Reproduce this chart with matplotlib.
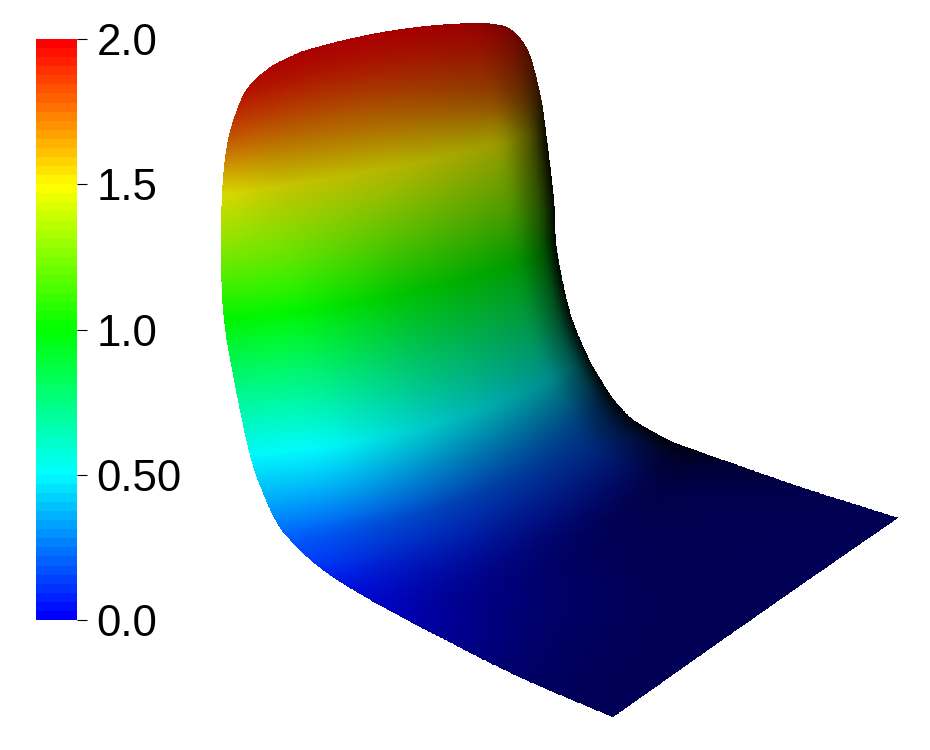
import numpy as np
import matplotlib
matplotlib.use("Agg")
import matplotlib.pyplot as plt
from matplotlib.colors import LinearSegmentedColormap, Normalize
from matplotlib.cm import ScalarMappable

plt.rcParams['font.family'] = ['Liberation Sans', 'DejaVu Sans']

# colour bar
tick_values = [0.0, 0.5, 1.0, 1.5, 2.0]
tick_labels = ["0.0", "0.50", "1.0", "1.5", "2.0"]
rainbow = ["#0000ff", "#00ffff", "#00ff00", "#ffff00", "#ff0000"]

# surface in pixels, one row per scalar value, bottom to top
row_value = [0, 0, 0, 0.01, 0.05, 0.12, 0.18, 0.25, 0.37, 0.5, 0.75, 1.0, 1.25, 1.5, 1.75, 1.9, 1.96, 1.985, 2.0]
left_x = [613, 520, 440, 385, 342, 313, 290, 277, 263, 250, 235, 224, 221, 222, 227, 238, 250, 272, 300]
left_y = [717, 677, 637, 608, 583, 562, 540, 523, 493, 455, 385, 320, 258, 195, 145, 107, 85, 66, 52]
mid_x = [755, 680, 607, 550, 525, 500, 480, 475, 460, 443, 425, 410, 400, 390, 385, 378, 380, 388, 395]
mid_y = [617, 592, 565, 555, 535, 512, 495, 478, 452, 423, 358, 293, 230, 168, 110, 72, 52, 38, 30]
right_x = [898, 800, 717, 695, 673, 650, 630, 612, 600, 588, 570, 557, 554, 546, 541, 531, 520, 507, 487]
right_y = [518, 487, 458, 450, 442, 430, 417, 397, 378, 357, 312, 250, 200, 132, 98, 58, 38, 27, 23]

# lighting across each row
shade_pos = [0, 0.15, 0.5, 0.85, 0.95, 1]
shade = [
    [.33, .33, .33, .33, .33, .33],
    [.38, .35, .33, .33, .32, .30],
    [.62, .48, .34, .29, .22, .14],
    [.76, .60, .40, .27, .18, .08],
    [.90, .75, .50, .35, .18, .04],
    [1.0, .85, .62, .45, .25, .03],
    [1.0, .90, .66, .50, .25, .03],
    [1.0, .95, .68, .50, .25, .03],
    [.98, .98, .72, .52, .28, .03],
    [.97, 1.0, .76, .55, .32, .03],
    [.97, .97, .75, .60, .32, .03],
    [.95, 1.0, .75, .60, .35, .02],
    [.92, .90, .75, .60, .30, .02],
    [.86, .76, .72, .62, .30, .03],
    [.78, .72, .65, .55, .35, .15],
    [.72, .70, .66, .58, .45, .30],
    [.70, .68, .66, .60, .50, .40],
    [.68, .67, .66, .60, .52, .45],
    [.67, .66, .66, .60, .55, .50],
]


def smooth(vals, t):
    # catmull-rom through the rows
    p = np.array(vals, dtype=float)
    p = np.concatenate([[2*p[0]-p[1]], p, [2*p[-1]-p[-2]]])
    i = np.minimum(t.astype(int), len(vals)-2)
    f = t-i
    p0, p1, p2, p3 = p[i], p[i+1], p[i+2], p[i+3]
    return 0.5*(2*p1+(p2-p0)*f+(2*p0-5*p1+4*p2-p3)*f**2+(3*p1-p0-3*p2+p3)*f**3)


cmap_bar = LinearSegmentedColormap.from_list("bar", rainbow, N=64)
cmap_surf = LinearSegmentedColormap.from_list("surf", rainbow, N=512)
norm = Normalize(0, 2)

fig = plt.figure(figsize=(9.3, 7.5), dpi=100)
ax = fig.add_axes([0, 0, 1, 1])
ax.set_xlim(0, 930)
ax.set_ylim(750, 0)
ax.axis('off')

t = np.linspace(0, len(row_value)-1, 900)
s = np.linspace(0, 1, 700)
u = 1-(1-s)**2  # denser towards the dark right rim
lx, ly = smooth(left_x, t), smooth(left_y, t)
mx, my = smooth(mid_x, t), smooth(mid_y, t)
rx, ry = smooth(right_x, t), smooth(right_y, t)
val = np.clip(smooth(row_value, t), 0, 2)

w_l = (2*u-1)*(u-1)
w_m = 4*u*(1-u)
w_r = u*(2*u-1)
X = np.outer(lx, w_l)+np.outer(mx, w_m)+np.outer(rx, w_r)
Y = np.outer(ly, w_l)+np.outer(my, w_m)+np.outer(ry, w_r)

shade = np.array(shade)
rows = np.arange(len(row_value))
shade_t = np.array([np.interp(t, rows, shade[:, j]) for j in range(len(shade_pos))]).T
B = np.array([np.interp(u, shade_pos, r) for r in shade_t])
# soften the kinks of the lighting table
k_u = np.ones(61)/61
k_t = np.ones(61)/61
B = np.array([np.convolve(np.pad(r, 30, mode='edge'), k_u, mode='valid') for r in B])
B = np.array([np.convolve(np.pad(c, 30, mode='edge'), k_t, mode='valid') for c in B.T]).T

rgb = cmap_surf(norm(val))[:, :3]
C = np.clip(rgb[:, None, :]*B[:, :, None], 0, 1)
ax.pcolormesh(X, Y, C[:-1, :-1], shading='flat', antialiased=False, edgecolors='none')

# scalar bar
cax = fig.add_axes([36/930, 130/750, 41/930, 581/750])
cb = fig.colorbar(ScalarMappable(norm=norm, cmap=cmap_bar), cax=cax, ticks=tick_values)
cb.ax.set_yticklabels(tick_labels)
cb.outline.set_visible(False)
cb.ax.tick_params(length=7.2, width=0.8, labelsize=31.5, pad=7, color='black')

fig.savefig("out.png", dpi=100)
